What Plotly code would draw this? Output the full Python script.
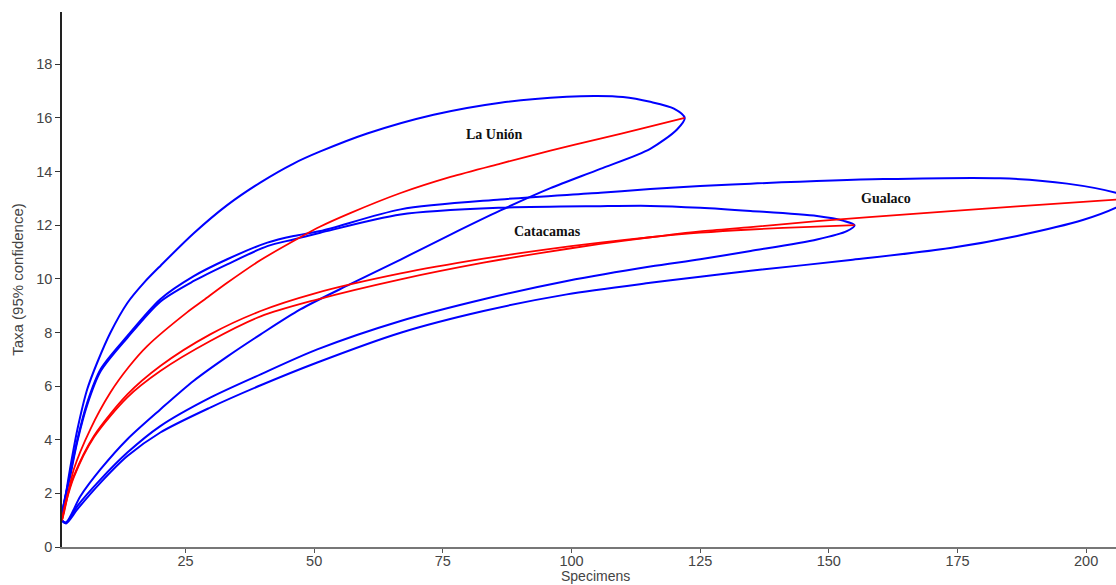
import plotly.graph_objects as go

# ---- La Unión (n=122, S=16)
lu_mean_x = [1, 1.4, 3.3, 6.5, 10.4, 14, 17.6, 25.3, 28.5, 33.1, 39.6, 47.3, 51.2, 57, 66.8, 76.5, 86.2, 95.9, 105.6, 114, 122]
lu_mean_y = [1, 1.29, 2.9, 4.39, 5.76, 6.72, 7.5, 8.75, 9.2, 9.85, 10.7, 11.55, 11.95, 12.45, 13.2, 13.8, 14.3, 14.78, 15.23, 15.62, 16.0]
lu_up_x = [1, 1.69, 2.66, 4.0, 5.9, 7.85, 10.4, 13.7, 16.9, 20.2, 26.6, 33.1, 39.6, 46.0, 51.2, 60.3, 73.2, 86.2, 99.1, 105, 110, 115.3, 119.9, 122]
lu_up_y = [1, 1.9, 3.02, 4.39, 5.88, 6.88, 7.99, 9.1, 9.85, 10.5, 11.7, 12.75, 13.6, 14.3, 14.75, 15.42, 16.12, 16.57, 16.79, 16.82, 16.78, 16.6, 16.35, 16.0]
lu_lo_x = [1, 1.8, 4.6, 8.5, 13.7, 20.1, 26.6, 33.1, 39.6, 47.3, 57.0, 66.8, 76.5, 86.2, 95.9, 105.6, 115.3, 120.5, 122]
lu_lo_y = [1, 0.92, 1.9, 2.9, 4.02, 5.13, 6.2, 7.1, 7.93, 8.86, 9.8, 10.72, 11.65, 12.55, 13.38, 14.1, 14.85, 15.57, 16.0]

# ---- Catacamas (n=155, S=12)
ca_mean_x = [1, 1.7, 3.3, 7.2, 13.7, 20.1, 29.8, 39.6, 50, 66.8, 82.9, 94.5, 105.6, 115.3, 125, 134.8, 147.7, 155]
ca_mean_y = [1, 1.67, 2.65, 4.14, 5.69, 6.75, 7.93, 8.8, 9.45, 10.2, 10.75, 11.08, 11.35, 11.55, 11.72, 11.84, 11.95, 12.0]
ca_up_x = [1, 2.66, 4.0, 5.9, 8.5, 13.7, 20.1, 26.6, 33.1, 40.9, 46, 51.2, 66.8, 86.2, 105.6, 115.3, 125, 134.8, 147.7, 152.9, 155]
ca_up_y = [1, 2.7, 3.95, 5.3, 6.55, 7.8, 9.15, 9.92, 10.54, 11.22, 11.47, 11.72, 12.4, 12.65, 12.71, 12.72, 12.65, 12.53, 12.34, 12.16, 12.0]
ca_lo_x = [1, 1.8, 4.0, 8.5, 13.7, 20.1, 29.8, 39.6, 50.6, 66.8, 82.9, 99.1, 115.3, 125, 134.8, 147.7, 153.5, 155]
ca_lo_y = [1, 0.9, 1.53, 2.52, 3.52, 4.51, 5.57, 6.44, 7.37, 8.43, 9.24, 9.92, 10.46, 10.73, 11.04, 11.47, 11.78, 12.0]

# ---- Gualaco (n=209, S=13)
gu_mean_x = [1, 1.7, 3.3, 7.2, 13.7, 20.1, 29.8, 39.6, 50, 66.8, 82.9, 94.5, 105.6, 115.3, 125, 134.8, 147.7, 167.1, 186.6, 209]
gu_mean_y = [1, 1.6, 2.6, 4.09, 5.58, 6.56, 7.68, 8.6, 9.2, 9.98, 10.6, 10.98, 11.3, 11.55, 11.77, 11.93, 12.15, 12.43, 12.7, 13.0]
gu_up_x = [1, 2.66, 4.0, 5.9, 8.5, 13.7, 20.1, 26.6, 33.1, 40.9, 46, 51.2, 66.8, 86.2, 105.6, 115.3, 125, 134.8, 160.6, 183.3, 196.3, 205.8, 209]
gu_up_y = [1, 2.78, 4.02, 5.39, 6.63, 7.87, 9.24, 10.1, 10.73, 11.35, 11.6, 11.78, 12.59, 12.96, 13.21, 13.35, 13.46, 13.55, 13.72, 13.75, 13.55, 13.21, 13.0]
gu_lo_x = [1, 1.8, 4.0, 8.5, 13.7, 20.1, 29.8, 39.6, 50.6, 66.8, 82.9, 99.1, 115.3, 125, 134.8, 154.2, 173.6, 186.6, 199.5, 205.8, 209]
gu_lo_y = [1, 0.88, 1.41, 2.4, 3.39, 4.27, 5.2, 6.03, 6.88, 7.99, 8.8, 9.42, 9.85, 10.08, 10.3, 10.7, 11.15, 11.6, 12.2, 12.65, 13.0]

site_labels = ["La Unión", "Catacamas", "Gualaco"]
label_x = [85, 95.3, 161.2]
label_y = [15.38, 11.78, 13.0]

x_ticks = [25, 50, 75, 100, 125, 150, 175, 200]
y_ticks = [0, 2, 4, 6, 8, 10, 12, 14, 16, 18]

BLUE = "#0000ff"
RED = "#ff0000"

fig = go.Figure()

sites = [
    (lu_up_x, lu_up_y, lu_lo_x, lu_lo_y, lu_mean_x, lu_mean_y),
    (ca_up_x, ca_up_y, ca_lo_x, ca_lo_y, ca_mean_x, ca_mean_y),
    (gu_up_x, gu_up_y, gu_lo_x, gu_lo_y, gu_mean_x, gu_mean_y),
]
for ux, uy, lx, ly, mx, my in sites:
    env_x = list(ux) + list(reversed(lx))[1:]
    env_y = list(uy) + list(reversed(ly))[1:]
    fig.add_trace(go.Scatter(x=env_x, y=env_y, mode="lines",
                             line=dict(color=BLUE, width=2, shape="spline", smoothing=0.8),
                             hoverinfo="skip", showlegend=False))
for ux, uy, lx, ly, mx, my in sites:
    fig.add_trace(go.Scatter(x=mx, y=my, mode="lines",
                             line=dict(color=RED, width=1.8, shape="spline", smoothing=0.8),
                             hoverinfo="skip", showlegend=False))

for t, lx_, ly_ in zip(site_labels, label_x, label_y):
    fig.add_annotation(x=lx_, y=ly_, text="<b>%s</b>" % t, showarrow=False,
                       font=dict(family="Liberation Serif", size=14, color="#111111"),
                       xanchor="center", yanchor="middle")

tick_font = dict(family="Liberation Sans, Arial", size=14.5, color="#444444")
title_font = dict(family="Liberation Sans, Arial", size=14, color="#444444")

# plot area: top 12 px, bottom 38 px
PLOT_H = 585 - 12 - 38
fig.add_annotation(xref="paper", yref="paper", x=0.506, y=-38 / PLOT_H,
                   text="Specimens", showarrow=False, font=title_font,
                   xanchor="center", yanchor="bottom", borderpad=0)

fig.update_layout(
    width=1116, height=585,
    margin=dict(l=62, r=0, t=12, b=38),
    paper_bgcolor="white", plot_bgcolor="white",
    xaxis=dict(range=[1, 205.8], tickvals=x_ticks, ticks="outside", ticklen=4,
               tickcolor="#555555", showline=True, linecolor="#777777", linewidth=2,
               showgrid=False, zeroline=False, tickfont=tick_font, automargin=False,
               ticklabelstandoff=-4),
    yaxis=dict(range=[0, 19.95], tickvals=y_ticks, ticks="outside", ticklen=5,
               tickcolor="#333333", showline=True, linecolor="#222222", linewidth=1.5,
               showgrid=False, zeroline=False, tickfont=tick_font, automargin=False,
               title=dict(text="Taxa (95% confidence)", font=dict(family="Liberation Sans, Arial", size=15, color="#444444"), standoff=9)),
)

fig.write_html("out.html")
